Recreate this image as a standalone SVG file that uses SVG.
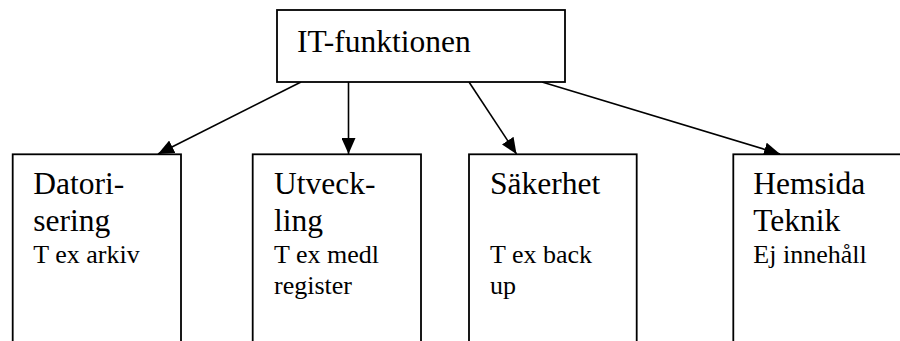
<svg xmlns="http://www.w3.org/2000/svg" width="900" height="341" viewBox="0 0 900 341">
<style>
.box{fill:#fff;stroke:#000;stroke-width:1.8}
.big{font-family:"Liberation Serif","Times New Roman",serif;font-size:31.5px;fill:#000}
.small{font-family:"Liberation Serif","Times New Roman",serif;font-size:26px;fill:#000}
.conn{stroke:#000;stroke-width:1.6;fill:none;marker-end:url(#ah)}
</style>
<defs>
<marker id="ah" markerUnits="userSpaceOnUse" markerWidth="16" markerHeight="14" viewBox="0 0 16 14" refX="16" refY="7" orient="auto">
<path d="M0,0 L16,7 L0,14 Z" fill="#000"/>
</marker>
</defs>
<rect width="900" height="341" fill="#fff"/>
<g id="connectors">
<line class="conn" x1="301" y1="82" x2="158" y2="154"/>
<line class="conn" x1="348.5" y1="82" x2="348.5" y2="154"/>
<line class="conn" x1="469" y1="82" x2="516.5" y2="154"/>
<line class="conn" x1="542" y1="82" x2="780" y2="154"/>
</g>
<g id="node-it">
<rect class="box" x="277" y="10" width="288" height="72"/>
<text class="big" x="297" y="52">IT-funktionen</text>
</g>
<g id="node-datorisering">
<rect class="box" x="12.7" y="154.3" width="168.3" height="200"/>
<text class="big" x="33.3" y="194">Datori-</text>
<text class="big" x="33.3" y="230.7">sering</text>
<text class="small" x="33.3" y="263.3">T ex arkiv</text>
</g>
<g id="node-utveckling">
<rect class="box" x="252.7" y="154.3" width="168.3" height="200"/>
<text class="big" x="274" y="194">Utveck-</text>
<text class="big" x="274" y="230.7">ling</text>
<text class="small" x="274" y="263.3">T ex medl</text>
<text class="small" x="274" y="294">register</text>
</g>
<g id="node-sakerhet">
<rect class="box" x="469" y="154.3" width="167.7" height="200"/>
<text class="big" x="490" y="194">Säkerhet</text>
<text class="small" x="490" y="263.3">T ex back</text>
<text class="small" x="490" y="294">up</text>
</g>
<g id="node-hemsida">
<rect class="box" x="733.3" y="154.3" width="200" height="200"/>
<text class="big" x="753.3" y="194">Hemsida</text>
<text class="big" x="753.3" y="230.7">Teknik</text>
<text class="small" x="753.3" y="263.3">Ej innehåll</text>
</g>
</svg>
